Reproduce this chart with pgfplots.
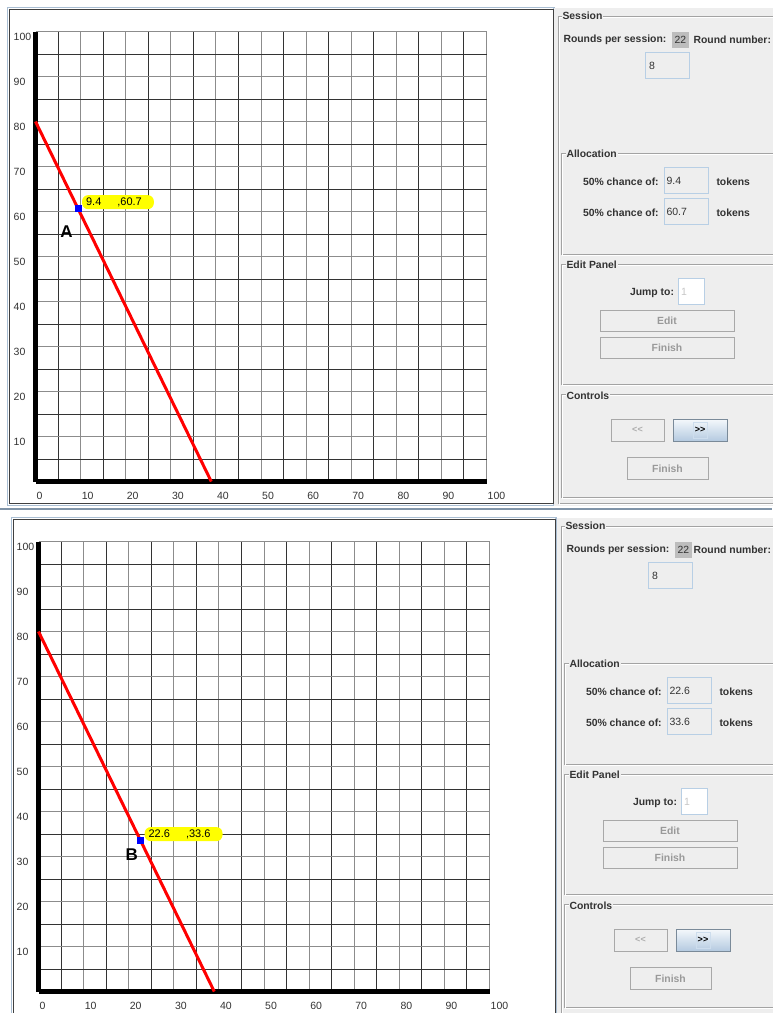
\documentclass[border=0pt]{standalone}
\usepackage{pgfplots}
\pgfplotsset{compat=1.18}
\usepackage{fontspec}
\setmainfont{Liberation Sans}

\definecolor{panelbg}{HTML}{EEEEEE}
\definecolor{etch}{HTML}{A3A3A3}
\definecolor{fieldb}{HTML}{B8CFE5}
\definecolor{btnb}{HTML}{A8A8A8}
\definecolor{distext}{HTML}{999999}
\definecolor{txt}{HTML}{333333}
\definecolor{g22}{HTML}{BDBDBD}
\definecolor{gtop}{HTML}{F3F7FB}
\definecolor{gbot}{HTML}{B4CAE0}
\definecolor{blueb}{HTML}{7A8A99}
\definecolor{framed}{HTML}{404040}
\definecolor{framel}{HTML}{A9BED3}
\definecolor{sepdark}{HTML}{8094A8}
\definecolor{gridmaj}{HTML}{8C8C8C}
\definecolor{gridmin}{HTML}{333333}
\definecolor{tipyellow}{HTML}{FFFF00}

\newcommand{\gfont}{\fontsize{10.4}{12}\selectfont}
\newcommand{\etched}[4]{%
  \draw[etch] (#1,#2) rectangle (#3,#4);
  \draw[white] (#1+1,#2+1) rectangle (#3+1,#4+1);}
\newcommand{\gtitle}[3]{%
  \node[anchor=west, fill=panelbg, inner xsep=1pt, inner ysep=0pt,
        font=\bfseries\gfont, text=txt] at (#1,#2) {#3};}

% right-hand control panel; #1,#2 offset in px, #3,#4 the two allocations
\newcommand{\guipanel}[4]{%
\begin{scope}[shift={(#1pt,-#2pt)}, x=1pt, y=-1pt, line width=1pt]
  \fill[panelbg] (554,8) rectangle (790,506);
  % Session
  \etched{558}{16}{790}{503}
  \gtitle{561}{16}{Session}
  \node[anchor=west, inner sep=0.5pt, font=\bfseries\gfont, text=txt] at (562.5,39.5) {Rounds per session:};
  \fill[g22] (671.5,31.5) rectangle (689,47.5);
  \node[font=\gfont, text=txt] at (680.3,39.5) {22};
  \node[anchor=east, inner sep=0pt, font=\bfseries\gfont, text=txt] at (771.5-#1,39.5) {Round number:};
  \draw[fieldb] (645,52.5) rectangle (689.5,78);
  \node[anchor=west, inner sep=0.5pt, font=\fontsize{10.5}{12}\selectfont, text=txt] at (648,65.5) {8};
  % Allocation
  \etched{561}{153.5}{790}{254}
  \gtitle{565}{154}{Allocation}
  \node[anchor=west, inner sep=0.5pt, font=\bfseries\gfont, text=txt] at (582,181.7) {50\% chance of:};
  \draw[fieldb] (664,167) rectangle (708,193.5);
  \node[anchor=west, inner sep=0.5pt, font=\fontsize{10.5}{12}\selectfont, text=txt] at (665.5,181) {#3};
  \node[anchor=west, inner sep=0.5pt, font=\bfseries\gfont, text=txt] at (715.5,181.7) {tokens};
  \node[anchor=west, inner sep=0.5pt, font=\bfseries\gfont, text=txt] at (582,212.3) {50\% chance of:};
  \draw[fieldb] (664,198.5) rectangle (708,224);
  \node[anchor=west, inner sep=0.5pt, font=\fontsize{10.5}{12}\selectfont, text=txt] at (665.5,211.5) {#4};
  \node[anchor=west, inner sep=0.5pt, font=\bfseries\gfont, text=txt] at (715.5,212.3) {tokens};
  % Edit Panel
  \etched{561}{264}{790}{384}
  \gtitle{565}{265}{Edit Panel}
  \node[anchor=east, inner sep=0.5pt, font=\bfseries\gfont, text=txt] at (675,292.5) {Jump to:};
  \draw[fieldb, fill=white] (678,278.5) rectangle (704,304);
  \node[anchor=west, inner sep=0.5pt, font=\fontsize{10.5}{12}\selectfont, text=black!22] at (680,291.5) {1};
  \draw[btnb] (600,310.5) rectangle (734.5,331.5);
  \node[font=\bfseries\gfont, text=distext] at (667,321) {Edit};
  \draw[btnb] (600,337.5) rectangle (734.5,358.5);
  \node[font=\bfseries\gfont, text=distext] at (667,348) {Finish};
  % Controls
  \etched{561}{394.5}{790}{497}
  \gtitle{565}{396}{Controls}
  \draw[btnb] (611,419.5) rectangle (664,441);
  \node[font=\bfseries\fontsize{9}{11}\selectfont, text=distext!80] at (637.5,430) {<{}<};
  \draw[blueb, top color=gtop, bottom color=gbot] (673,419.5) rectangle (727,441);
  \draw[fieldb!70!white, line width=0.8pt] (693,422.5) rectangle (707,438);
  \node[font=\bfseries\fontsize{9}{11}\selectfont, text=black] at (700,430) {>{}>};
  \draw[btnb] (627,457.5) rectangle (708,479.5);
  \node[font=\bfseries\gfont, text=distext] at (667.5,468.5) {Finish};
\end{scope}}

\pgfplotsset{gridplot/.style={
  scale only axis, width=451pt, height=450pt,
  xmin=0, xmax=100, ymin=0, ymax=100,
  axis lines*=left,
  axis line style={line width=4.5pt, black},
  xtick={0,10,...,100}, ytick={10,20,...,100},
  minor xtick={5,15,...,95}, minor ytick={5,15,...,95},
  major tick length=0pt, minor tick length=0pt,
  grid=both,
  major grid style={line width=1pt, gridmaj},
  minor grid style={line width=1pt, gridmin},
  /pgf/number format/assume math mode=true,
  ticklabel style={font=\fontsize{10.5}{12}\selectfont, text=txt, inner sep=1pt},
  xticklabel style={anchor=north west, yshift=-9pt},
  yticklabel style={anchor=north west, xshift=-23pt},
  clip=false,
}}
\pgfplotsset{tipstyle/.style={
  only marks, mark=square*, mark size=3pt, color=blue,
  nodes near coords style={anchor=south west, xshift=4pt, yshift=-1pt,
    fill=tipyellow, text=black, rounded corners=6pt,
    inner xsep=4pt, inner ysep=2pt, minimum height=14pt,
    font=\fontsize{11}{12}\selectfont}}}

\begin{document}
\begin{tikzpicture}
\useasboundingbox (0,0) rectangle (772pt,-1013pt);
\fill[white] (0,0) rectangle (772pt,-1013pt);

% window frames round the two charts
\begin{scope}[x=1pt, y=-1pt]
  \draw[framel, line width=1.5pt] (7.5,7.5) rectangle (554,505.5);
  \draw[framed, line width=1pt] (9.5,9.5) rectangle (553,503.5);
  \draw[sepdark, line width=1.5pt] (0,509) -- (772,509);
  \draw[framel, line width=1.5pt] (11.5,517.5) rectangle (556,1020);
  \draw[framed, line width=1pt] (13.5,519.5) rectangle (555,1020);
\end{scope}

\guipanel{0}{0}{9.4}{60.7}
\guipanel{3}{510}{22.6}{33.6}

% upper chart, allocation A
\begin{axis}[gridplot, at={(35.5pt,-481.5pt)}, anchor=south west]
  \addplot[red, line width=3pt] coordinates {(0,80) (38.97,0)};
  \addplot[tipstyle, nodes near coords={9.4\kern16pt,60.7\kern8pt}]
    coordinates {(9.4,60.7)};
  \node[font=\bfseries\fontsize{17}{19}\selectfont] at (axis cs:6.9,55.6) {A};
\end{axis}

% lower chart, allocation B
\begin{axis}[gridplot, at={(38.5pt,-991.5pt)}, anchor=south west]
  \addplot[red, line width=3pt] coordinates {(0,80) (38.97,0)};
  \addplot[tipstyle, nodes near coords={22.6\kern16pt,33.6\kern8pt}]
    coordinates {(22.6,33.6)};
  \node[font=\bfseries\fontsize{17}{19}\selectfont] at (axis cs:20.7,30.5) {B};
\end{axis}
\end{tikzpicture}
\end{document}
